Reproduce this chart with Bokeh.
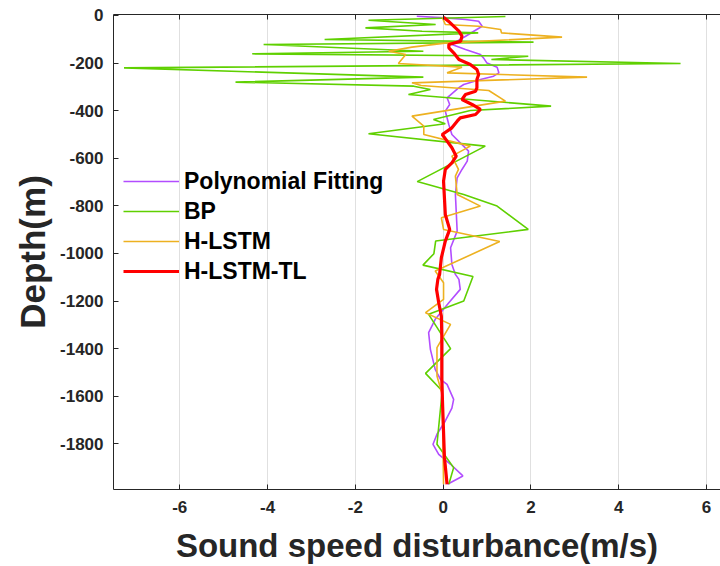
from bokeh.plotting import figure
from bokeh.models import Range1d, LinearAxis, FixedTicker, Legend, LegendItem
from bokeh.embed import file_html
from bokeh.resources import INLINE

# ---------------- data ----------------
poly_depth = [-3, -10, -17, -24, -45, -66, -80, -108, -122, -143, -164, -178, -200, -217, -241,
              -255, -269, -290, -303, -346, -374, -402, -458, -500, -570, -612, -647, -682, -752,
              -906, -976, -1046, -1088, -1109, -1151, -1207, -1277, -1333, -1403, -1487, -1529,
              -1550, -1613, -1650, -1704, -1760, -1802, -1844, -1886, -1935, -1970]
poly_x = [-0.60, 0.05, 0.51, 0.81, 0.89, 0.70, 0.58, 0.32, 0.20, 0.51, 0.85, 0.92, 1.00, 1.23, 1.27,
          1.15, 0.85, 0.47, 0.36, 0.09, 0.15, 0.05, 0.13, 0.20, 0.58, 0.55, 0.43, 0.32, 0.28,
          0.32, 0.17, 0.20, 0.28, 0.36, 0.39, 0.13, -0.18, -0.33, -0.29, -0.18, -0.06,
          0.09, 0.24, 0.20, 0.05, -0.14, -0.23, -0.10, 0.17, 0.45, 0.10]

bp_depth = [-4, -20, -38, -52, -66, -73, -101, -112, -122, -150, -161, -171, -185, -202, -220,
            -259, -280, -297, -311, -332, -381, -399, -437, -455, -497, -549, -698, -752, -801,
            -899, -948, -1001, -1049, -1097, -1200, -1256, -1400, -1504, -1578, -1802, -1900, -1970]
bp_x = [1.42, -1.70, -0.17, -1.77, -0.48, 0.80, -2.70, 2.06, -4.09, -0.45, -4.35, 1.94, 1.10, 5.41, -7.27,
        -0.45, -4.73, -0.67, -0.29, -0.79, 2.46, 0.62, -0.22, 0.05, -1.70, 0.96, -0.59, 0.47, 1.23,
        1.94, -0.17, -0.21, -0.46, 0.68, 0.47, -0.33, 0.17, -0.40, -0.02, -0.14, 0.24, 0.13]

hl_depth = [-7, -38, -45, -59, -73, -91, -115, -133, -150, -164, -202, -217, -241, -259, -283,
            -294, -315, -360, -423, -465, -500, -549, -591, -647, -675, -752, -801, -850, -899,
            -950, -1074, -1123, -1193, -1249, -1298, -1396, -1515, -1592, -1970]
hl_x = [-0.02, 0.05, 0.81, 1.31, 1.33, 2.71, 0.09, -0.71, -1.24, -0.85, -1.02, 0.43, 0.09, 3.28, -0.71,
        -0.50, 1.04, 1.42, -0.71, -0.44, -0.44, 0.62, 0.20, 0.35, 0.28, 0.32, 0.85, -0.04, 0.01,
        1.29, -0.18, 0.01, 0.01, -0.40, 0.17, -0.14, -0.14, -0.02, 0.01]

tl_depth = [-7, -24, -45, -66, -87, -108, -122, -136, -157, -185, -206, -227, -248, -269, -304,
            -318, -332, -353, -374, -395, -416, -430, -444, -472, -500, -528, -556, -591, -619,
            -647, -696, -836, -899, -948, -1018, -1088, -1109, -1151, -1207, -1263, -1347,
            -1529, -1646, -1856, -1970]
tl_x = [0.01, 0.12, 0.24, 0.36, 0.43, 0.40, 0.13, 0.13, 0.24, 0.36, 0.62, 0.77, 0.81, 0.77, 0.77,
        0.74, 0.51, 0.43, 0.66, 0.85, 0.74, 0.39, 0.32, 0.20, -0.02, 0.09, 0.20, 0.30, 0.20,
        0.05, 0.01, 0.05, 0.15, 0.05, -0.04, -0.08, -0.12, -0.15, -0.10, -0.04, -0.03,
        -0.03, -0.01, 0.03, 0.09]

x_ticks = [-6, -4, -2, 0, 2, 4, 6]
y_ticks = [0, -200, -400, -600, -800, -1000, -1200, -1400, -1600, -1800]

FONT = "Liberation Sans"
TXT = "#262626"

p = figure(width=720, height=566, output_backend="svg", toolbar_location=None,
           x_range=Range1d(-7.51, 6.32), y_range=Range1d(-1992, 4.2),
           min_border_left=113, min_border_right=0, min_border_top=14, min_border_bottom=76)
p.background_fill_color = "white"
p.border_fill_color = "white"
p.outline_line_color = None

r_poly = p.line(poly_x, poly_depth, line_color="#B24DFF", line_width=1.6)
r_bp = p.line(bp_x, bp_depth, line_color="#5FD000", line_width=1.6)
r_hl = p.line(hl_x, hl_depth, line_color="#EDB120", line_width=1.6)
r_tl = p.line(tl_x, tl_depth, line_color="#FF0000", line_width=3.2)

# axes
xa = p.xaxis[0]
ya = p.yaxis[0]
xa.ticker = FixedTicker(ticks=x_ticks)
ya.ticker = FixedTicker(ticks=y_ticks)
xa.major_label_overrides = {t: str(t) for t in x_ticks}
ya.major_label_overrides = {t: str(t) for t in y_ticks}
for ax in (xa, ya):
    ax.major_tick_in = 5
    ax.major_tick_out = 0
    ax.minor_tick_line_color = None
    ax.axis_line_color = TXT
    ax.major_tick_line_color = TXT
    ax.major_label_text_font = FONT
    ax.major_label_text_font_style = "bold"
    ax.major_label_text_font_size = "17px"
    ax.major_label_text_color = TXT
    ax.axis_label_text_font = FONT
    ax.axis_label_text_font_style = "bold"
    ax.axis_label_text_color = TXT
xa.axis_label = "Sound speed disturbance(m/s)"
ya.axis_label = "Depth(m)"
xa.axis_label_text_font_size = "33px"
ya.axis_label_text_font_size = "35px"
xa.major_label_standoff = 11
ya.major_label_standoff = 10
xa.axis_label_standoff = 11
ya.axis_label_standoff = 5

top = LinearAxis(ticker=FixedTicker(ticks=x_ticks), major_tick_in=5, major_tick_out=0,
                 major_label_overrides={t: "" for t in x_ticks},
                 major_label_text_font_size="0px", major_label_standoff=0,
                 minor_tick_line_color=None, axis_line_color=TXT, major_tick_line_color=TXT)
p.add_layout(top, "above")

p.xgrid.ticker = FixedTicker(ticks=x_ticks)
p.xgrid.grid_line_color = "#e0e0e0"
p.ygrid.grid_line_color = None

legend = Legend(items=[LegendItem(label="Polynomial Fitting", renderers=[r_poly]),
                       LegendItem(label="BP", renderers=[r_bp]),
                       LegendItem(label="H-LSTM", renderers=[r_hl]),
                       LegendItem(label="H-LSTM-TL", renderers=[r_tl])],
                location=(10, 203))
legend.padding = 0
legend.margin = 0
legend.spacing = 0
legend.glyph_width = 56
legend.glyph_height = 30
legend.label_height = 30
legend.label_standoff = 5
legend.label_text_font = FONT
legend.label_text_font_style = "bold"
legend.label_text_font_size = "23px"
legend.label_text_color = "black"
legend.background_fill_alpha = 0
legend.border_line_color = None
p.add_layout(legend, "center")

open("out.html", "w").write(file_html(p, INLINE))
